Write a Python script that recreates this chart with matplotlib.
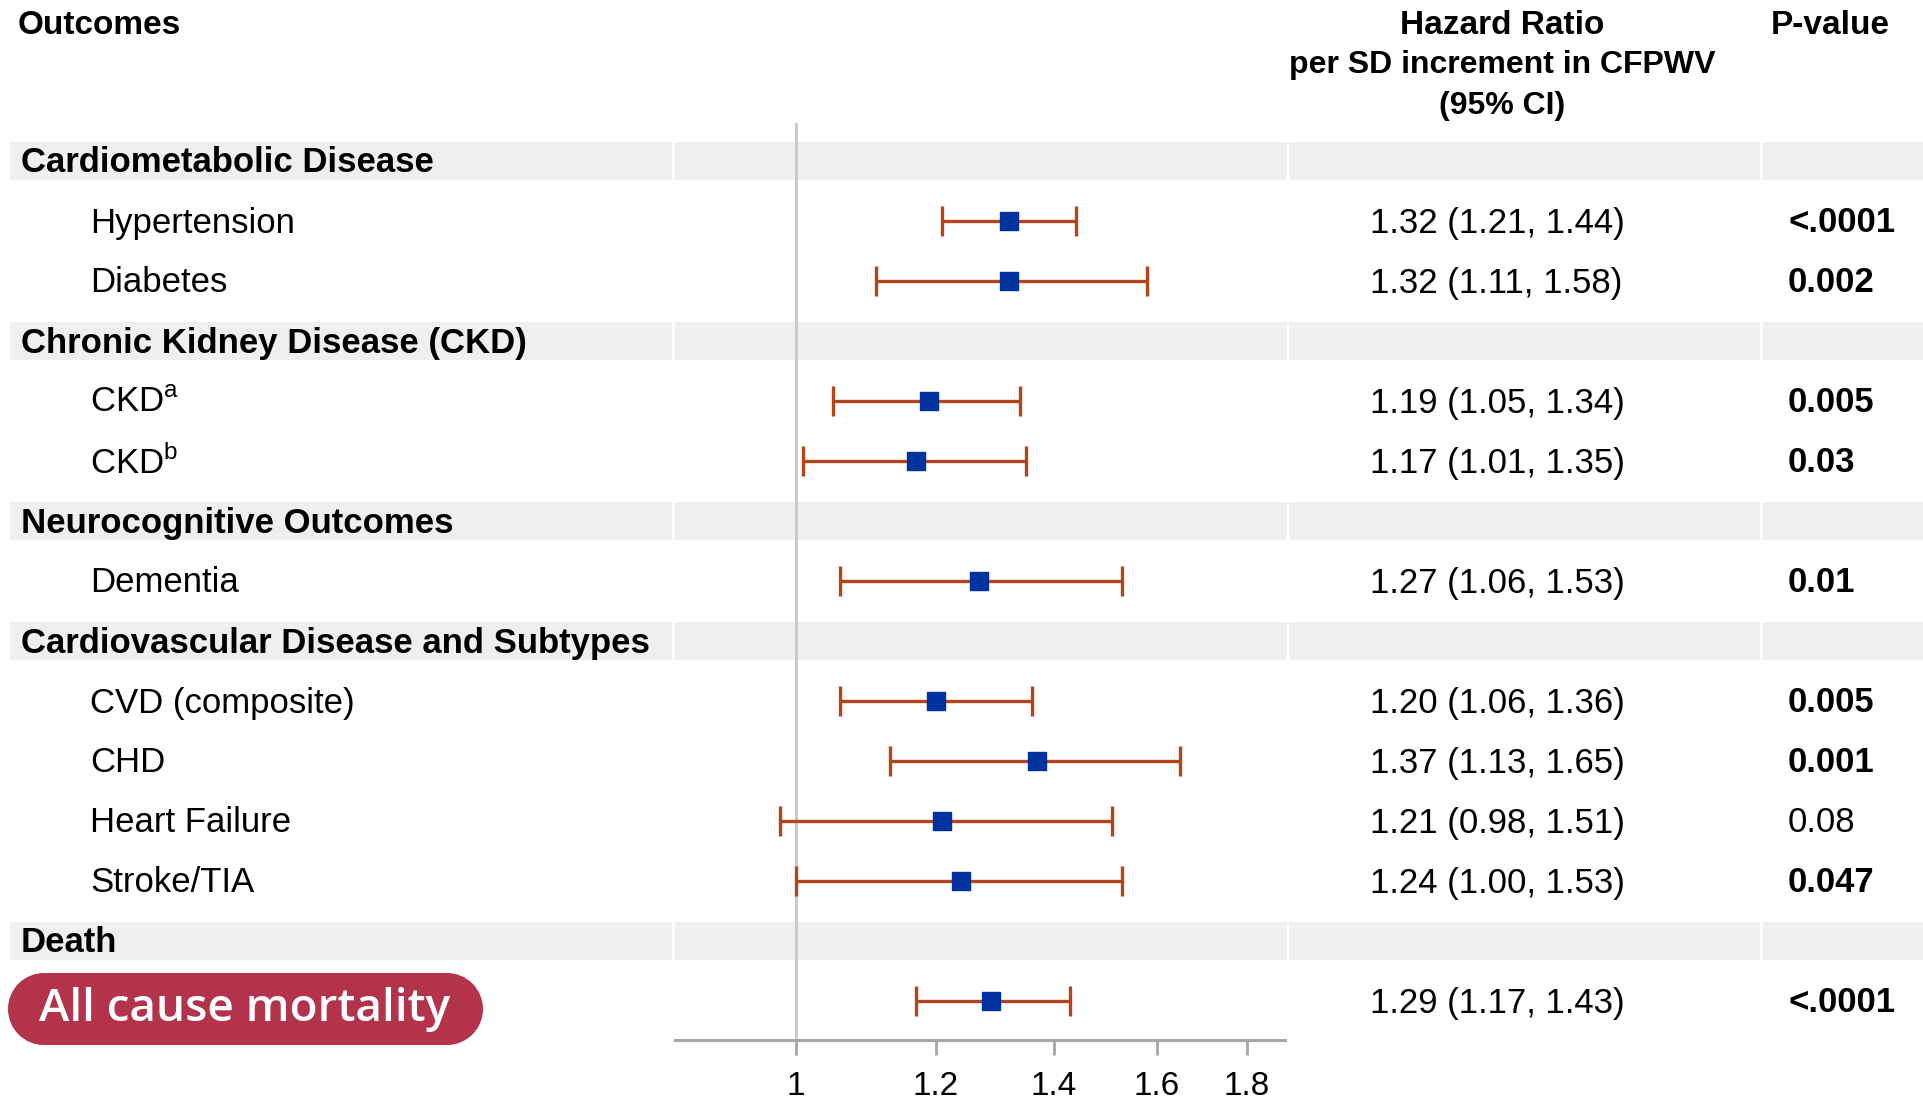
import matplotlib.pyplot as plt
from matplotlib.patches import Rectangle, Circle
from matplotlib.ticker import FixedLocator, NullLocator

plt.rcParams['font.family'] = ['Liberation Sans', 'DejaVu Sans']
plt.rcParams['mathtext.fontset'] = 'custom'
plt.rcParams['mathtext.rm'] = 'Liberation Sans'

# table rows, top to bottom: (label, is_section_header)
rows = [
    ("Cardiometabolic Disease", True),
    ("Hypertension", False),
    ("Diabetes", False),
    ("Chronic Kidney Disease (CKD)", True),
    ("CKD$^{\\mathrm{a}}$", False),
    ("CKD$^{\\mathrm{b}}$", False),
    ("Neurocognitive Outcomes", True),
    ("Dementia", False),
    ("Cardiovascular Disease and Subtypes", True),
    ("CVD (composite)", False),
    ("CHD", False),
    ("Heart Failure", False),
    ("Stroke/TIA", False),
    ("Death", True),
    ("All cause mortality", False),
]

# hazard ratios for the outcome rows (in row order)
hr = [1.32, 1.32, 1.19, 1.17, 1.27, 1.20, 1.37, 1.21, 1.24, 1.29]
ci_low = [1.21, 1.11, 1.05, 1.01, 1.06, 1.06, 1.13, 0.98, 1.00, 1.17]
ci_high = [1.44, 1.58, 1.34, 1.35, 1.53, 1.36, 1.65, 1.51, 1.53, 1.43]
p_values = ["<.0001", "0.002", "0.005", "0.03", "0.01", "0.005", "0.001", "0.08", "0.047", "<.0001"]
p_bold = [True, True, True, True, True, True, True, False, True, True]
x_ticks = [1, 1.2, 1.4, 1.6, 1.8]

W, H = 1923, 1100
ROW0, ROW_H = 161, 60
TXT_DY = 2  # nudge text so glyphs sit centred in the rows
fig = plt.figure(figsize=(W / 100, H / 100), dpi=100)

# background layer in pixel coordinates
bg = fig.add_axes([0, 0, 1, 1])
bg.set_xlim(0, W)
bg.set_ylim(H, 0)
bg.axis('off')

FS = 25
band_cols = [(10, 672), (675, 1287), (1289, 1760), (1763, 1923)]
pill_color = '#b3334b'

outcome_rows = [i for i, (_, sec) in enumerate(rows) if not sec]

for i, (label, sec) in enumerate(rows):
    yc = ROW0 + ROW_H * i
    if sec:
        for x0, x1 in band_cols:
            bg.add_patch(Rectangle((x0, yc - 19), x1 - x0, 38, color='#efefef', lw=0, zorder=0))
        bg.text(21, yc + TXT_DY, label, fontsize=FS, fontweight='bold', va='center', ha='left')
    elif label == "All cause mortality":
        # stadium shaped highlight: rectangle with round ends
        px0, px1, py0, ph = 8, 483, 973, 72
        r = ph / 2
        bg.add_patch(Rectangle((px0 + r, py0), px1 - px0 - 2 * r, ph, color=pill_color, lw=0, zorder=2))
        bg.add_patch(Circle((px0 + r, py0 + r), r, color=pill_color, lw=0, zorder=2))
        bg.add_patch(Circle((px1 - r, py0 + r), r, color=pill_color, lw=0, zorder=2))
        bg.text(245, 1010, label, fontsize=33, fontweight='semibold',
                family=['Open Sans', 'DejaVu Sans'], color='white',
                va='center', ha='center', zorder=3)
    else:
        bg.text(90, yc + TXT_DY, label, fontsize=FS, va='center', ha='left')

for k, r in enumerate(outcome_rows):
    yc = ROW0 + ROW_H * r + TXT_DY
    bg.text(1370, yc, f"{hr[k]:.2f} ({ci_low[k]:.2f}, {ci_high[k]:.2f})",
            fontsize=FS, va='center', ha='left')
    bg.text(1788, yc, p_values[k], fontsize=FS, va='center', ha='left',
            fontweight='bold' if p_bold[k] else 'normal')

# column headers
bg.text(18, 26, "Outcomes", fontsize=24, fontweight='bold', va='center', ha='left')
bg.text(1502, 26, "Hazard Ratio", fontsize=24, fontweight='bold', va='center', ha='center')
bg.text(1502, 65, "per SD increment in CFPWV", fontsize=23, fontweight='bold', va='center', ha='center')
bg.text(1502, 106, "(95% CI)", fontsize=23, fontweight='bold', va='center', ha='center')
bg.text(1830, 26, "P-value", fontsize=24, fontweight='bold', va='center', ha='center')

# forest plot panel
ax_left, ax_right, ax_top, ax_bottom = 674.5, 1285, 123, 1040
ax = fig.add_axes([ax_left / W, 1 - ax_bottom / H,
                   (ax_right - ax_left) / W, (ax_bottom - ax_top) / H])
ax.patch.set_alpha(0)
ax.set_xscale('log')
ax.set_xlim(0.854, 1.891)
ax.set_ylim((ax_bottom - ROW0) / ROW_H, (ax_top - ROW0) / ROW_H)
for s in ['top', 'left', 'right']:
    ax.spines[s].set_visible(False)
ax.spines['bottom'].set_color('#a6a6a6')
ax.spines['bottom'].set_linewidth(2.2)
ax.xaxis.set_major_locator(FixedLocator(x_ticks))
ax.xaxis.set_minor_locator(NullLocator())
ax.set_xticklabels([f"{t:g}" for t in x_ticks])
ax.tick_params(axis='x', direction='out', length=11, width=2, color='#a6a6a6',
               labelsize=24, pad=11)
ax.set_yticks([])
ax.axvline(1, color='#c8c8c8', lw=2, zorder=1)

err_low = [h - l for h, l in zip(hr, ci_low)]
err_high = [u - h for h, u in zip(hr, ci_high)]
ax.errorbar(hr, outcome_rows, xerr=[err_low, err_high], fmt='none',
            ecolor='#b4451a', elinewidth=2.4, capsize=11, capthick=2.4, zorder=2)
ax.scatter(hr, outcome_rows, marker='s', s=150, color='#0033a0', zorder=3)

fig.savefig('out.png', dpi=100)
